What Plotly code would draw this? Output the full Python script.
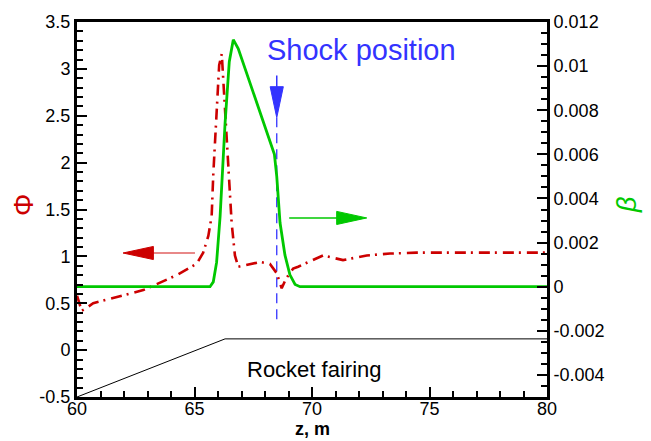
import plotly.graph_objects as go

# ---- data ----
z_phi = [60.0, 60.2, 60.35, 60.69, 62.82, 64.24, 65.09, 65.37, 65.59, 65.73, 65.80, 65.87,
         65.97, 66.05, 66.16, 66.30, 66.44, 66.58, 66.72, 66.86, 67.79, 68.21, 68.50, 68.71,
         68.89, 69.20, 69.41, 70.47, 71.32, 72.33, 73.32, 74.45, 76.0, 78.0, 80.0]
phi = [0.58, 0.42, 0.44, 0.50, 0.64, 0.80, 0.92, 1.04, 1.22, 1.43, 1.88, 2.23,
       2.76, 3.04, 3.16, 2.59, 2.06, 1.36, 1.01, 0.89, 0.94, 0.92, 0.82, 0.66,
       0.76, 0.87, 0.89, 1.01, 0.96, 1.01, 1.03, 1.04, 1.04, 1.04, 1.04]

z_beta = [60.0, 65.66, 65.80, 65.94, 66.09, 66.30, 66.48, 66.65, 66.86, 68.40, 68.50,
          68.64, 68.85, 69.06, 69.28, 69.49, 80.0]
beta = [0.0, 0.0, 0.00022, 0.0011, 0.0032, 0.0074, 0.0102, 0.0112, 0.0108, 0.0060, 0.0050,
        0.0029, 0.00143, 0.00054, 0.0001, 0.0, 0.0]

fairing_z = [60.0, 66.3, 80.0]
fairing_phi = [-0.5, 0.12, 0.12]

shock_z = 68.5

x_tickvals = [60, 65, 70, 75, 80]
x_ticktext = ["60", "65", "70", "75", "80"]
y_tickvals = [-0.5, 0, 0.5, 1, 1.5, 2, 2.5, 3, 3.5]
y_ticktext = ["-0.5", "0", "0.5", "1", "1.5", "2", "2.5", "3", "3.5"]
y2_tickvals = [-0.004, -0.002, 0, 0.002, 0.004, 0.006, 0.008, 0.01, 0.012]
y2_ticktext = ["-0.004", "-0.002", "0", "0.002", "0.004", "0.006", "0.008", "0.01", "0.012"]

RED = "#cc0000"
GREEN = "#00c800"
BLUE = "#3333ff"
FONT = "Arial, Liberation Sans, sans-serif"

fig = go.Figure()
fig.add_trace(go.Scatter(x=fairing_z, y=fairing_phi, mode="lines",
                         line=dict(color="black", width=1), showlegend=False))
fig.add_trace(go.Scatter(x=[shock_z, shock_z], y=[0.33, 2.48], mode="lines",
                         line=dict(color=BLUE, width=1.3, dash="10px,6px"), showlegend=False))
fig.add_trace(go.Scatter(x=z_phi, y=phi, mode="lines",
                         line=dict(color=RED, width=2.6, dash="11px,5px,2px,6px"),
                         showlegend=False))
fig.add_trace(go.Scatter(x=z_beta, y=beta, mode="lines", yaxis="y2",
                         line=dict(color=GREEN, width=2.8), showlegend=False))

shapes = []
# red arrow (pointing left)
shapes.append(dict(type="line", xref="x", yref="y", x0=63.2, x1=65.02, y0=1.036, y1=1.036,
                   line=dict(color="#e06060", width=1.5)))
shapes.append(dict(type="path", xref="x", yref="y",
                   path="M 61.96,1.036 L 63.25,1.106 L 63.25,0.966 Z",
                   fillcolor=RED, line=dict(color=RED, width=1)))
# green arrow (pointing right)
shapes.append(dict(type="line", xref="x", yref="y", x0=69.03, x1=71.1, y0=1.41, y1=1.41,
                   line=dict(color=GREEN, width=1.5)))
shapes.append(dict(type="path", xref="x", yref="y",
                   path="M 72.33,1.41 L 71.05,1.48 L 71.05,1.34 Z",
                   fillcolor=GREEN, line=dict(color=GREEN, width=1)))
# blue arrow (pointing down)
shapes.append(dict(type="line", xref="x", yref="y", x0=shock_z, x1=shock_z, y0=2.93, y1=2.75,
                   line=dict(color=BLUE, width=1.5)))
shapes.append(dict(type="path", xref="x", yref="y",
                   path="M 68.5,2.48 L 68.22,2.81 L 68.78,2.81 Z",
                   fillcolor=BLUE, line=dict(color=BLUE, width=1)))

annotations = [
    dict(text="Shock position", x=72.1, y=3.2, xref="x", yref="y", showarrow=False,
         font=dict(family=FONT, size=29, color=BLUE), xanchor="center", yanchor="middle"),
    dict(text="Rocket fairing", x=70.09, y=-0.21, xref="x", yref="y", showarrow=False,
         font=dict(family=FONT, size=22, color="black"), xanchor="center", yanchor="middle"),
    dict(text="Φ", x=-0.115, y=0.512, xref="paper", yref="paper", showarrow=False,
         textangle=-90, font=dict(family=FONT, size=28, color=RED),
         xanchor="center", yanchor="middle"),
    dict(text="<i>β</i>", x=1.17, y=0.512, xref="paper", yref="paper", showarrow=False,
         textangle=-90, font=dict(family=FONT, size=27, color=GREEN),
         xanchor="center", yanchor="middle"),
    dict(text="<b>z, m</b>", x=0.5, y=-0.1155, xref="paper", yref="paper", showarrow=False,
         font=dict(family=FONT, size=18, color="black"), xanchor="center", yanchor="bottom",
         borderpad=0),
]

tickfont = dict(family=FONT, size=18, color="black")
fig.update_layout(
    width=651, height=441,
    margin=dict(l=77, r=104, t=16, b=44),
    paper_bgcolor="white", plot_bgcolor="white",
    font=dict(family=FONT, color="black"),
    shapes=shapes, annotations=annotations,
    xaxis=dict(range=[60, 80], tickvals=x_tickvals, ticktext=x_ticktext,
               showgrid=False, zeroline=False, showline=True, linecolor="black",
               linewidth=3, mirror=True, ticks="inside", ticklen=10, tickwidth=2,
               tickcolor="black", tickfont=tickfont, ticklabelstandoff=-7,
               minor=dict(ticks="inside", dtick=1, ticklen=6, tickwidth=1.5,
                          tickcolor="black", showgrid=False)),
    yaxis=dict(range=[-0.5, 3.5], tickvals=y_tickvals, ticktext=y_ticktext,
               showgrid=False, zeroline=False, showline=True, linecolor="black",
               linewidth=3, ticks="inside", ticklen=10, tickwidth=2,
               tickcolor="black", tickfont=tickfont,
               minor=dict(ticks="inside", dtick=0.1, tick0=0, ticklen=6, tickwidth=1.5,
                          tickcolor="black", showgrid=False)),
    yaxis2=dict(range=[-0.005, 0.012], overlaying="y", side="right",
                tickvals=y2_tickvals, ticktext=y2_ticktext,
                showgrid=False, zeroline=False, showline=True, linecolor="black",
                linewidth=3, ticks="inside", ticklen=10, tickwidth=2,
                tickcolor="black", tickfont=tickfont,
                minor=dict(ticks="inside", dtick=0.0005, tick0=0, ticklen=6, tickwidth=1.5,
                           tickcolor="black", showgrid=False)),
)

fig.write_html("out.html")
